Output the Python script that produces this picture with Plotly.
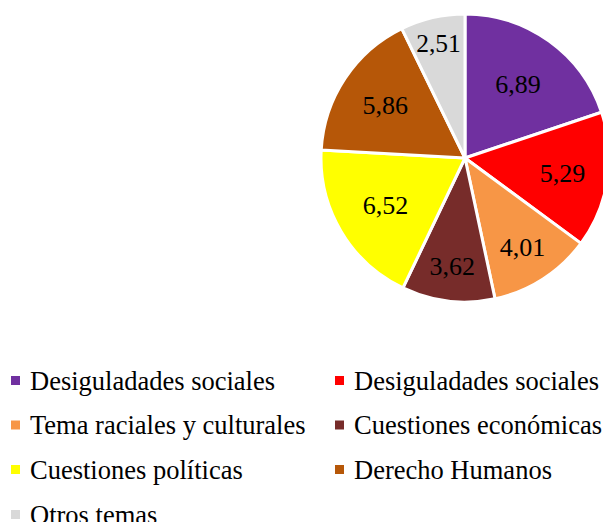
import plotly.graph_objects as go

categories = ["Desiguladades sociales", "Desiguladades sociales", "Tema raciales y culturales",
              "Cuestiones económicas", "Cuestiones políticas", "Derecho Humanos", "Otros temas"]
values = [6.89, 5.29, 4.01, 3.62, 6.52, 5.86, 2.51]
colors = ["#7030A0", "#FF0000", "#F79646", "#772C2A", "#FFFF00", "#B65708", "#D9D9D9"]

W, H = 612, 522
FONT = "Times New Roman, Liberation Serif, serif"

cx, cy, r = 465, 158, 144

fig = go.Figure(go.Pie(
    labels=[str(i) for i in range(len(values))],
    values=values,
    hovertext=categories,
    hoverinfo="text+value",
    text=[f"{v:.2f}".replace(".", ",") for v in values],
    textinfo="text",
    textposition="inside",
    insidetextorientation="horizontal",
    sort=False,
    direction="clockwise",
    rotation=0,
    marker=dict(colors=colors, line=dict(color="white", width=3)),
    textfont=dict(family=FONT, size=26, color="black"),
    showlegend=False,
    domain=dict(x=[(cx - r) / W, min(1, (cx + r) / W)], y=[(H - cy - r) / H, (H - cy + r) / H]),
))

# custom legend (two columns)
col_x = [15.5, 339.5]
row_y = [380.5, 425, 469.5, 514.5]
for i, (cat, col) in enumerate(zip(categories, colors)):
    x0 = col_x[i % 2]
    y0 = row_y[i // 2]
    fig.add_shape(type="rect", xref="paper", yref="paper",
                  x0=(x0 - 4.5) / W, x1=(x0 + 4.5) / W,
                  y0=(H - y0 - 4.5) / H, y1=(H - y0 + 4.5) / H,
                  fillcolor=col, line=dict(width=0))
    fig.add_annotation(xref="paper", yref="paper", x=(x0 + 12) / W, y=(H - y0) / H,
                       text=cat, showarrow=False, xanchor="left", yanchor="middle",
                       font=dict(family=FONT, size=26.5, color="black"))

fig.update_layout(width=W, height=H, margin=dict(l=0, r=0, t=0, b=0),
                  paper_bgcolor="white", plot_bgcolor="white")
fig.write_html(
    "out.html",
    config={"displayModeBar": False},
    post_script=("document.documentElement.style.overflow='hidden';"
                 "document.body.style.margin='0';document.body.style.overflow='hidden';"),
)
